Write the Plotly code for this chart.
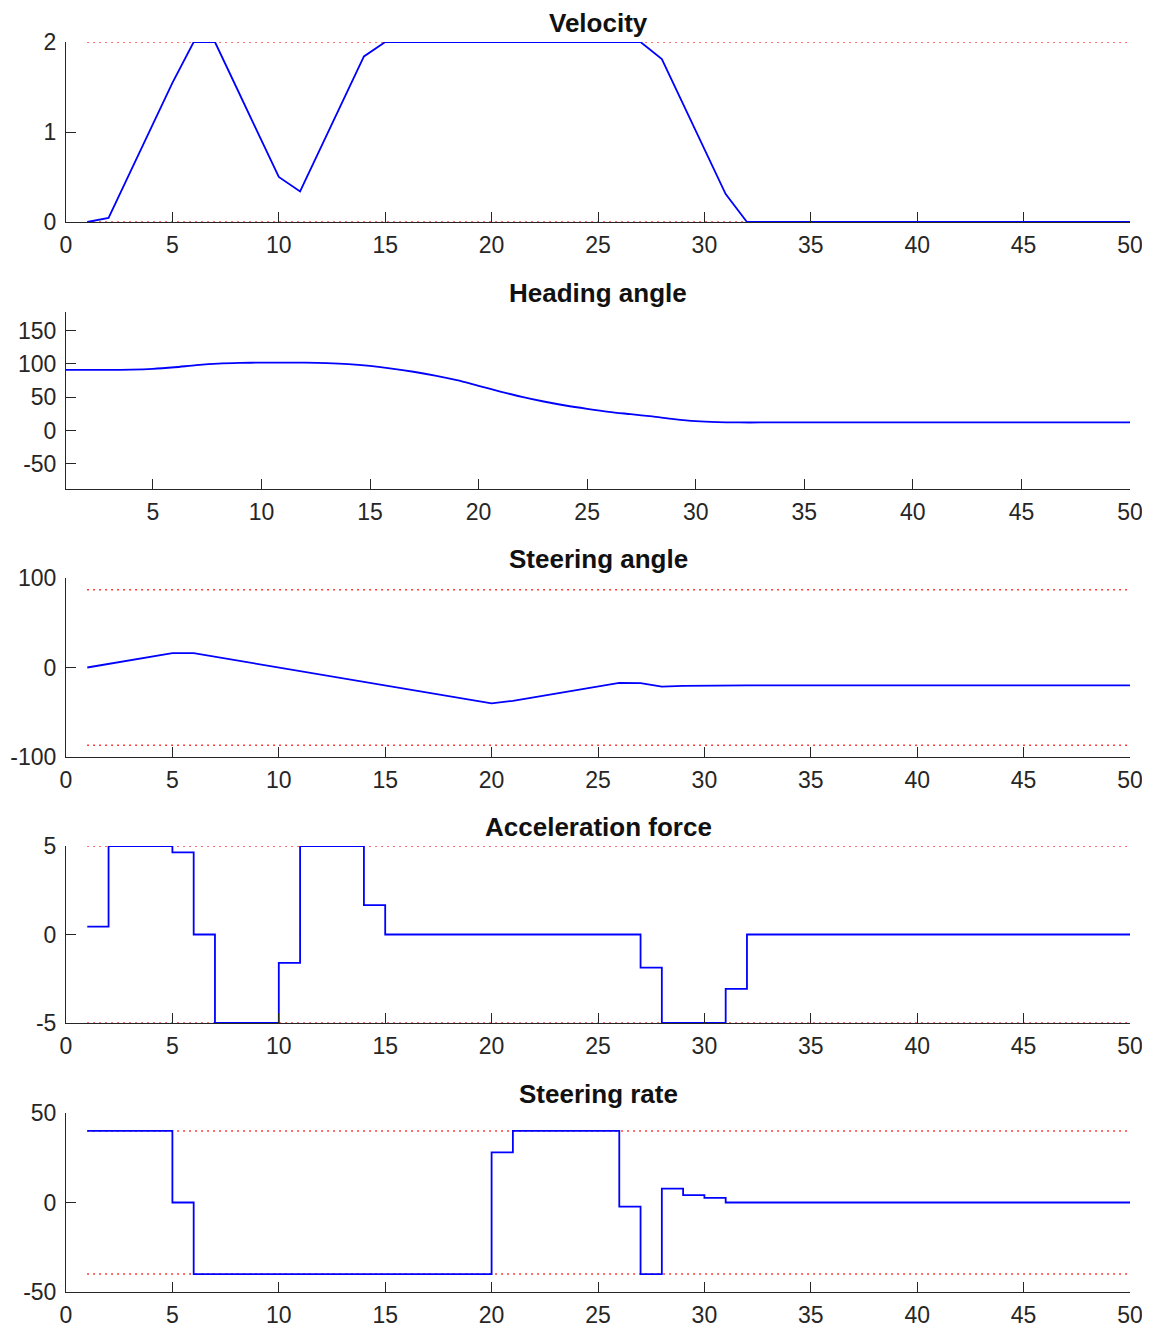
import plotly.graph_objects as go

steps = list(range(1, 51))

velocity = [0, 0.045, 0.545, 1.045, 1.545, 2.0, 2.0, 1.5, 1.0, 0.5,
            0.34, 0.84, 1.34, 1.84, 2.0, 2.0, 2.0, 2.0, 2.0, 2.0,
            2.0, 2.0, 2.0, 2.0, 2.0, 2.0, 2.0, 1.81, 1.31, 0.81,
            0.31, 0, 0, 0, 0, 0, 0, 0, 0, 0,
            0, 0, 0, 0, 0, 0, 0, 0, 0, 0]

heading = [91, 91, 91, 91.4, 92.6, 95, 98.1, 100.4, 101.5, 101.9,
           101.9, 101.8, 101.2, 99.7, 96.9, 93, 88.2, 82.5, 75.5, 67,
           58.5, 50.5, 43.5, 37.5, 32.5, 28, 24.5, 21, 17, 14,
           12.5, 12, 12, 12, 12, 12, 12, 12, 12, 12,
           12, 12, 12, 12, 12, 12, 12, 12, 12, 12]

steering = [0, 4, 8, 12, 16, 16, 12, 8, 4, 0,
            -4, -8, -12, -16, -20, -24, -28, -32, -36, -40,
            -37.2, -33.2, -29.2, -25.2, -21.2, -17.2, -17.4, -21.4, -20.6, -20.2,
            -20, -20, -20, -20, -20, -20, -20, -20, -20, -20,
            -20, -20, -20, -20, -20, -20, -20, -20, -20, -20]

accel = [0.45, 5, 5, 5, 4.64, 0, -5, -5, -5, -1.6,
         5, 5, 5, 1.66, 0, 0, 0, 0, 0, 0,
         0, 0, 0, 0, 0, 0, -1.87, -5, -5, -5,
         -3.07, 0, 0, 0, 0, 0, 0, 0, 0, 0,
         0, 0, 0, 0, 0, 0, 0, 0, 0, 0]

steer_rate = [40, 40, 40, 40, 0, -40, -40, -40, -40, -40,
              -40, -40, -40, -40, -40, -40, -40, -40, -40, 28,
              40, 40, 40, 40, 40, -2.3, -40, 7.8, 4.1, 2.6,
              0, 0, 0, 0, 0, 0, 0, 0, 0, 0,
              0, 0, 0, 0, 0, 0, 0, 0, 0, 0]

titles = ["Velocity", "Heading angle", "Steering angle", "Acceleration force", "Steering rate"]
series = [velocity, heading, steering, accel, steer_rate]
limits = [[2, 0], None, [87, -87], [5, -5], [40, -40]]
y_ticks = [[0, 1, 2], [-50, 0, 50, 100, 150], [-100, 0, 100], [-5, 0, 5], [-50, 0, 50]]
y_ranges = [[0, 2], [-88, 178], [-100, 100], [-5, 5], [-50, 50]]
x_ranges = [[0, 50], [1, 50], [0, 50], [0, 50], [0, 50]]
x_ticks = [list(range(0, 51, 5)), list(range(5, 51, 5)), list(range(0, 51, 5)),
           list(range(0, 51, 5)), list(range(0, 51, 5))]
shapes_ = ["linear", "spline", "linear", "hv", "hv"]

# page pixel extents (top, bottom) of each panel
px_extents = [(42, 222), (312, 489), (578, 757), (846, 1023), (1113, 1292)]

OFF = 8  # default body margin of the html page
W, H = 1142, 1320
fig = go.Figure()
font_family = "Liberation Sans, Arial, sans-serif"
axis_color = "#262626"

annotations = []
for i in range(5):
    n = "" if i == 0 else str(i + 1)
    xa, ya = "x" + n, "y" + n
    if limits[i] is not None:
        for lv in limits[i]:
            fig.add_trace(go.Scatter(x=[steps[0], steps[-1]], y=[lv, lv], mode="lines",
                                     line=dict(color="rgb(255,0,0)", width=1.5, dash="1.5px,4.5px"),
                                     xaxis=xa, yaxis=ya, showlegend=False, hoverinfo="skip",
                                     cliponaxis=False))
    line = dict(color="rgb(0,0,255)", width=1.8, shape=shapes_[i])
    if shapes_[i] == "spline":
        line["smoothing"] = 0.8
    fig.add_trace(go.Scatter(x=steps, y=series[i], mode="lines", line=line,
                             xaxis=xa, yaxis=ya, showlegend=False, cliponaxis=False))
    top, bot = px_extents[i]
    dom = [1 - (bot - OFF) / H, 1 - (top - OFF) / H]
    common = dict(showline=True, linecolor=axis_color, linewidth=1, ticks="inside",
                  ticklen=10, tickwidth=1, tickcolor=axis_color, showgrid=False,
                  zeroline=False, mirror=False, automargin=False,
                  tickfont=dict(family=font_family, size=23, color=axis_color))
    fig.layout["xaxis" + n] = dict(domain=[0, 1], range=x_ranges[i], anchor=ya,
                                   tickvals=x_ticks[i], ticktext=[str(v) for v in x_ticks[i]],
                                   ticklabelstandoff=2, **common)
    fig.layout["yaxis" + n] = dict(domain=dom, range=y_ranges[i], anchor=xa,
                                   tickvals=y_ticks[i],
                                   ticktext=[str(v) for v in y_ticks[i]],
                                   ticklabelstandoff=4, **common)
    annotations.append(dict(text="<b>" + titles[i] + "</b>", x=0.5, xref="paper",
                            y=1 - (top - 19 - OFF) / H, yref="paper", yanchor="middle",
                            xanchor="center", showarrow=False,
                            font=dict(family=font_family, size=26, color="#111")))

fig.update_layout(width=W, height=H, autosize=False,
                  margin=dict(l=66 - OFF, r=W - (1130 - OFF), t=0, b=0, pad=0, autoexpand=False),
                  paper_bgcolor="white", plot_bgcolor="white",
                  annotations=annotations, showlegend=False)

fig.write_html("out.html")
